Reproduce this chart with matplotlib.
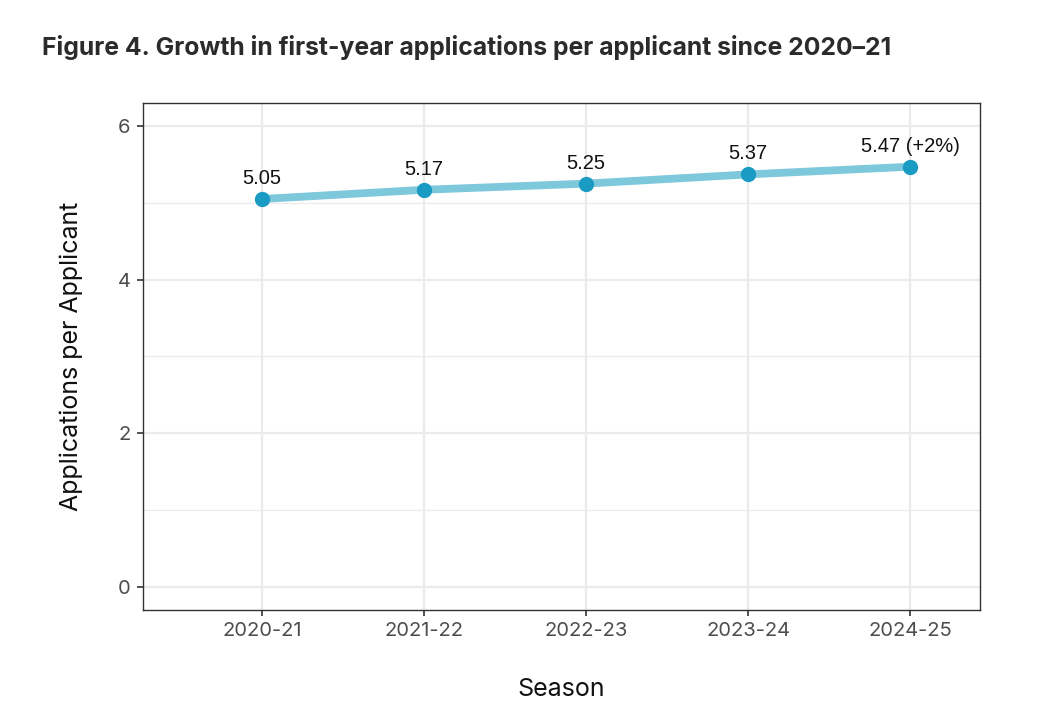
import numpy as np
import matplotlib.pyplot as plt

# 数据
seasons = ["2020-21", "2021-22", "2022-23", "2023-24", "2024-25"]
apps_per_applicant = [5.05, 5.17, 5.25, 5.37, 5.47]
point_labels = ["5.05", "5.17", "5.25", "5.37", "5.47 (+2%)"]

fig = plt.figure(figsize=(10.4, 7.2), dpi=100)
ax = fig.add_axes([0.1375, 0.1528, 0.8045, 0.7042])

X = np.arange(len(seasons))

# 网格
for y in [0, 1, 2, 3, 4, 5, 6]:
    ax.axhline(y, color="#EBEBEB", lw=1.6 if y % 2 == 0 else 0.9, zorder=0)
for x in X:
    ax.axvline(x, color="#EBEBEB", lw=1.6, zorder=0)

ax.plot(X, apps_per_applicant, color="#7EC8DC", lw=5.6, solid_capstyle="butt", zorder=2)
ax.plot(X, apps_per_applicant, "o", color="#1A9BC4", ms=10, zorder=3)

for x, y, s in zip(X, apps_per_applicant, point_labels):
    ax.annotate(s, (x, y), xytext=(0, 8), textcoords="offset points",
                ha="center", va="bottom", fontsize=14.5, family="Liberation Sans", color="#111111")

ax.set_xlim(-0.735, 4.43)
ax.set_ylim(-0.3, 6.3)
ax.set_xticks(X, labels=seasons)
ax.set_yticks([0, 2, 4, 6])

for sp in ax.spines.values():
    sp.set_color("#333333")
    sp.set_linewidth(1.0)

ax.tick_params(axis="both", length=4, width=1.2, color="#333333", labelcolor="#4D4D4D",
               labelsize=14.5, pad=5)
for lab in ax.get_xticklabels() + ax.get_yticklabels():
    lab.set_family("Inter")

ax.set_xlabel("Season", fontsize=18, family="Inter", color="#111111", labelpad=27)
ax.set_ylabel("Applications per Applicant", fontsize=18, family="Inter", color="#111111", labelpad=25)

fig.text(42 / 1040, 1 - 48 / 720, "Figure 4. Growth in first-year applications per applicant since 2020\u201321",
         fontsize=17.8, fontweight="bold", family="Inter", color="#2B2B2B", va="center", ha="left")

fig.savefig("out.png", dpi=100, facecolor="white")
